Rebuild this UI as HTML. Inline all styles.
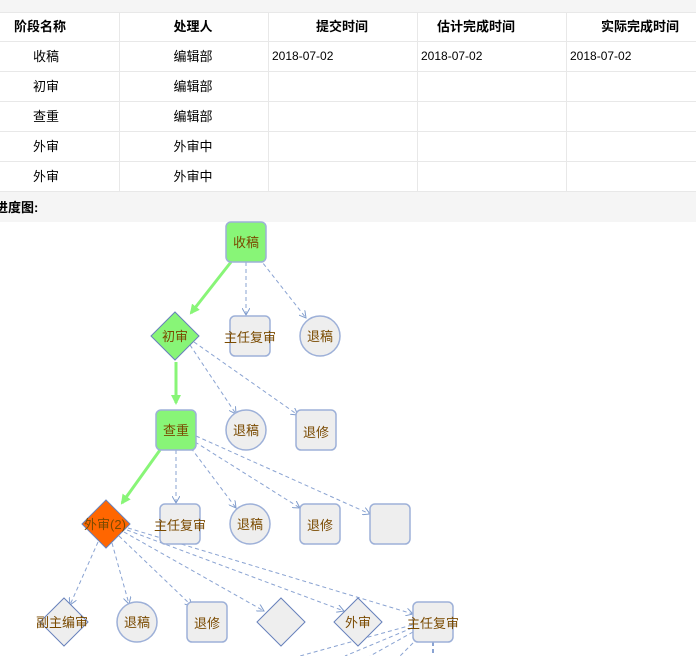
<!DOCTYPE html>
<html><head><meta charset="utf-8"><style>
body{margin:0;width:696px;height:656px;overflow:hidden;background:#fff;font-family:"Liberation Sans","Noto Sans CJK SC",sans-serif;}
</style></head><body>
<svg width="696" height="656" xmlns="http://www.w3.org/2000/svg" style="position:absolute;left:0;top:0">
<defs>
<marker id="ga" markerWidth="10" markerHeight="10" refX="8" refY="5" orient="auto" markerUnits="userSpaceOnUse" viewBox="0 0 10 10"><path d="M0,0 L10,5 L0,10 Z" fill="#88f577"/></marker>
<marker id="ba" markerWidth="8" markerHeight="8" refX="7" refY="4" orient="auto" markerUnits="userSpaceOnUse"><path d="M0,0 L7,4 L0,8" fill="none" stroke="#7f9ccc" stroke-width="1"/></marker>
</defs>
<rect x="0" y="0" width="696" height="12" fill="#f5f5f5"/>
<rect x="0" y="192" width="696" height="30" fill="#f5f5f5"/>
<g stroke="#e8e8e8" stroke-width="1">
<line x1="0" y1="12.5" x2="696" y2="12.5"/>
<line x1="0" y1="41.5" x2="696" y2="41.5"/>
<line x1="0" y1="71.5" x2="696" y2="71.5"/>
<line x1="0" y1="101.5" x2="696" y2="101.5"/>
<line x1="0" y1="131.5" x2="696" y2="131.5"/>
<line x1="0" y1="161.5" x2="696" y2="161.5"/>
<line x1="0" y1="191.5" x2="696" y2="191.5"/>
<line x1="119.5" y1="12" x2="119.5" y2="192"/>
<line x1="268.5" y1="12" x2="268.5" y2="192"/>
<line x1="417.5" y1="12" x2="417.5" y2="192"/>
<line x1="566.5" y1="12" x2="566.5" y2="192"/>
</g>
<g font-size="13" font-weight="bold" fill="#000">
<text x="40" y="31" text-anchor="middle">阶段名称</text>
<text x="193" y="31" text-anchor="middle">处理人</text>
<text x="342" y="31" text-anchor="middle">提交时间</text>
<text x="476" y="31" text-anchor="middle">估计完成时间</text>
<text x="640" y="31" text-anchor="middle">实际完成时间</text>
<text x="-5" y="212">进度图:</text>
</g>
<g font-size="13" fill="#000" text-anchor="middle">
<text x="46" y="61">收稿</text><text x="193" y="61">编辑部</text>
<text x="46" y="91">初审</text><text x="193" y="91">编辑部</text>
<text x="46" y="121">查重</text><text x="193" y="121">编辑部</text>
<text x="46" y="151">外审</text><text x="193" y="151">外审中</text>
<text x="46" y="181">外审</text><text x="193" y="181">外审中</text>
</g>
<g font-size="12" fill="#000">
<text x="272" y="60">2018-07-02</text>
<text x="421" y="60">2018-07-02</text>
<text x="570" y="60">2018-07-02</text>
</g>
<g stroke="#8aa3d2" stroke-width="1" stroke-dasharray="4,3" fill="none" marker-end="url(#ba)">
<line x1="246" y1="262" x2="246" y2="315"/>
<line x1="259" y1="258" x2="306" y2="318"/>
<line x1="190" y1="345" x2="236" y2="414"/>
<line x1="194" y1="342" x2="298" y2="415"/>
<line x1="176" y1="450" x2="176" y2="503"/>
<line x1="191" y1="448" x2="236" y2="508"/>
<line x1="195" y1="442" x2="300" y2="508"/>
<line x1="196" y1="436" x2="370" y2="514"/>
<line x1="98" y1="542" x2="70" y2="605"/>
<line x1="112" y1="543" x2="129" y2="604"/>
<line x1="119" y1="536" x2="192" y2="606"/>
<line x1="124" y1="532" x2="264" y2="611"/>
<line x1="127" y1="530" x2="344" y2="611"/>
<line x1="128" y1="528" x2="413" y2="614"/>
</g>
<g stroke="#8aa3d2" stroke-width="1" stroke-dasharray="4,3" fill="none">
<line x1="412" y1="625" x2="300" y2="656"/>
<line x1="412" y1="628" x2="345" y2="656"/>
<line x1="413" y1="632" x2="370" y2="656"/>
<line x1="418" y1="638" x2="400" y2="656"/>
<line x1="433" y1="642" x2="433" y2="656" stroke-width="2"/>
</g>
<g stroke="#88f577" stroke-width="3" fill="none" marker-end="url(#ga)">
<line x1="231" y1="262" x2="191" y2="313"/>
<line x1="176" y1="362" x2="176" y2="403"/>
<line x1="160" y1="450" x2="122" y2="503"/>
</g>
<g stroke="#9db0d8" stroke-width="1.5">
<rect x="226" y="222" width="40" height="40" rx="5" fill="#88f577"/>
<rect x="156" y="410" width="40" height="40" rx="5" fill="#88f577"/>
<rect x="230" y="316" width="40" height="40" rx="5" fill="#eeeeee"/>
<circle cx="320" cy="336" r="20" fill="#eeeeee"/>
<circle cx="246" cy="430" r="20" fill="#eeeeee"/>
<rect x="296" y="410" width="40" height="40" rx="5" fill="#eeeeee"/>
<rect x="160" y="504" width="40" height="40" rx="5" fill="#eeeeee"/>
<circle cx="250" cy="524" r="20" fill="#eeeeee"/>
<rect x="300" y="504" width="40" height="40" rx="5" fill="#eeeeee"/>
<rect x="370" y="504" width="40" height="40" rx="5" fill="#eeeeee"/>
<circle cx="137" cy="622" r="20" fill="#eeeeee"/>
<rect x="187" y="602" width="40" height="40" rx="5" fill="#eeeeee"/>
<rect x="413" y="602" width="40" height="40" rx="5" fill="#eeeeee"/>
</g>
<g stroke="#6680bb" stroke-width="1">
<polygon points="175,312 199,336 175,360 151,336" fill="#88f577"/>
<polygon points="106,500 130,524 106,548 82,524" fill="#ff6600"/>
<polygon points="64,598 88,622 64,646 40,622" fill="#eeeeee"/>
<polygon points="281,598 305,622 281,646 257,622" fill="#eeeeee"/>
<polygon points="358,598 382,622 358,646 334,622" fill="#eeeeee"/>
</g>
<g font-size="13" fill="#7a4a00" text-anchor="middle">
<text x="246" y="247">收稿</text>
<text x="175" y="341">初审</text>
<text x="250" y="342">主任复审</text>
<text x="320" y="341">退稿</text>
<text x="176" y="435">查重</text>
<text x="246" y="435">退稿</text>
<text x="316" y="437">退修</text>
<text x="105" y="529">外审(2)</text>
<text x="180" y="530">主任复审</text>
<text x="250" y="529">退稿</text>
<text x="320" y="530">退修</text>
<text x="62" y="627">副主编审</text>
<text x="137" y="627">退稿</text>
<text x="207" y="628">退修</text>
<text x="358" y="627">外审</text>
<text x="433" y="628">主任复审</text>
</g>
</svg>
</body></html>
